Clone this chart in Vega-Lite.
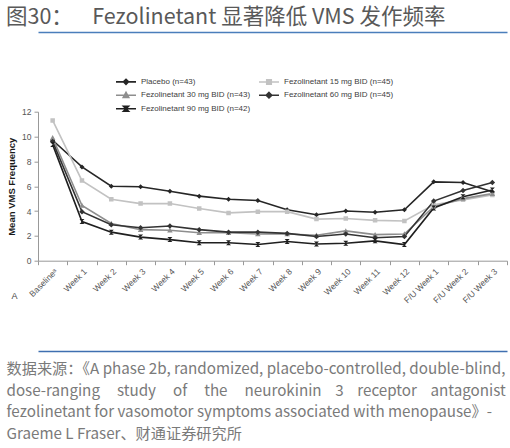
{
  "$schema": "https://vega.github.io/schema/vega-lite/v6.json",
  "autosize": "none",
  "width": 469,
  "height": 149,
  "padding": {"left": 38, "top": 111.7, "right": 3, "bottom": 187.3},
  "background": "white",
  "config": {"view": {"stroke": null}, "font": "Liberation Sans"},
  "title": {
    "text": "图30：\u00a0\u00a0\u00a0\u00a0Fezolinetant 显著降低 VMS 发作频率",
    "anchor": "start",
    "frame": "group",
    "dx": -32,
    "offset": -9.5,
    "font": "Noto Sans CJK SC",
    "fontSize": 21.5,
    "fontWeight": "normal",
    "color": "#595959"
  },
  "data": {
    "values": [
      {"week": "Baselineᵃ", "series": "Placebo (n=43)", "value": 9.7},
      {"week": "Week 1", "series": "Placebo (n=43)", "value": 7.55},
      {"week": "Week 2", "series": "Placebo (n=43)", "value": 6.0},
      {"week": "Week 3", "series": "Placebo (n=43)", "value": 5.95},
      {"week": "Week 4", "series": "Placebo (n=43)", "value": 5.6},
      {"week": "Week 5", "series": "Placebo (n=43)", "value": 5.2},
      {"week": "Week 6", "series": "Placebo (n=43)", "value": 4.95},
      {"week": "Week 7", "series": "Placebo (n=43)", "value": 4.85},
      {"week": "Week 8", "series": "Placebo (n=43)", "value": 4.1},
      {"week": "Week 9", "series": "Placebo (n=43)", "value": 3.7},
      {"week": "Week 10", "series": "Placebo (n=43)", "value": 4.0},
      {"week": "Week 11", "series": "Placebo (n=43)", "value": 3.9},
      {"week": "Week 12", "series": "Placebo (n=43)", "value": 4.1},
      {"week": "F/U Week 1", "series": "Placebo (n=43)", "value": 6.35},
      {"week": "F/U Week 2", "series": "Placebo (n=43)", "value": 6.3},
      {"week": "F/U Week 3", "series": "Placebo (n=43)", "value": 5.55},
      {"week": "Baselineᵃ", "series": "Fezolinetant 15 mg BID (n=45)", "value": 11.3},
      {"week": "Week 1", "series": "Fezolinetant 15 mg BID (n=45)", "value": 6.45},
      {"week": "Week 2", "series": "Fezolinetant 15 mg BID (n=45)", "value": 4.95},
      {"week": "Week 3", "series": "Fezolinetant 15 mg BID (n=45)", "value": 4.6},
      {"week": "Week 4", "series": "Fezolinetant 15 mg BID (n=45)", "value": 4.6},
      {"week": "Week 5", "series": "Fezolinetant 15 mg BID (n=45)", "value": 4.2},
      {"week": "Week 6", "series": "Fezolinetant 15 mg BID (n=45)", "value": 3.85},
      {"week": "Week 7", "series": "Fezolinetant 15 mg BID (n=45)", "value": 3.95},
      {"week": "Week 8", "series": "Fezolinetant 15 mg BID (n=45)", "value": 3.95},
      {"week": "Week 9", "series": "Fezolinetant 15 mg BID (n=45)", "value": 3.35},
      {"week": "Week 10", "series": "Fezolinetant 15 mg BID (n=45)", "value": 3.4},
      {"week": "Week 11", "series": "Fezolinetant 15 mg BID (n=45)", "value": 3.25},
      {"week": "Week 12", "series": "Fezolinetant 15 mg BID (n=45)", "value": 3.2},
      {"week": "F/U Week 1", "series": "Fezolinetant 15 mg BID (n=45)", "value": 4.5},
      {"week": "F/U Week 2", "series": "Fezolinetant 15 mg BID (n=45)", "value": 4.9},
      {"week": "F/U Week 3", "series": "Fezolinetant 15 mg BID (n=45)", "value": 5.3},
      {"week": "Baselineᵃ", "series": "Fezolinetant 30 mg BID (n=43)", "value": 9.9},
      {"week": "Week 1", "series": "Fezolinetant 30 mg BID (n=43)", "value": 4.45},
      {"week": "Week 2", "series": "Fezolinetant 30 mg BID (n=43)", "value": 3.0},
      {"week": "Week 3", "series": "Fezolinetant 30 mg BID (n=43)", "value": 2.5},
      {"week": "Week 4", "series": "Fezolinetant 30 mg BID (n=43)", "value": 2.45},
      {"week": "Week 5", "series": "Fezolinetant 30 mg BID (n=43)", "value": 2.25},
      {"week": "Week 6", "series": "Fezolinetant 30 mg BID (n=43)", "value": 2.25},
      {"week": "Week 7", "series": "Fezolinetant 30 mg BID (n=43)", "value": 2.15},
      {"week": "Week 8", "series": "Fezolinetant 30 mg BID (n=43)", "value": 2.15},
      {"week": "Week 9", "series": "Fezolinetant 30 mg BID (n=43)", "value": 2.05},
      {"week": "Week 10", "series": "Fezolinetant 30 mg BID (n=43)", "value": 2.4},
      {"week": "Week 11", "series": "Fezolinetant 30 mg BID (n=43)", "value": 2.1},
      {"week": "Week 12", "series": "Fezolinetant 30 mg BID (n=43)", "value": 2.15},
      {"week": "F/U Week 1", "series": "Fezolinetant 30 mg BID (n=43)", "value": 4.35},
      {"week": "F/U Week 2", "series": "Fezolinetant 30 mg BID (n=43)", "value": 5.0},
      {"week": "F/U Week 3", "series": "Fezolinetant 30 mg BID (n=43)", "value": 5.4},
      {"week": "Baselineᵃ", "series": "Fezolinetant 60 mg BID (n=45)", "value": 9.6},
      {"week": "Week 1", "series": "Fezolinetant 60 mg BID (n=45)", "value": 3.95},
      {"week": "Week 2", "series": "Fezolinetant 60 mg BID (n=45)", "value": 2.9},
      {"week": "Week 3", "series": "Fezolinetant 60 mg BID (n=45)", "value": 2.65},
      {"week": "Week 4", "series": "Fezolinetant 60 mg BID (n=45)", "value": 2.8},
      {"week": "Week 5", "series": "Fezolinetant 60 mg BID (n=45)", "value": 2.5},
      {"week": "Week 6", "series": "Fezolinetant 60 mg BID (n=45)", "value": 2.3},
      {"week": "Week 7", "series": "Fezolinetant 60 mg BID (n=45)", "value": 2.3},
      {"week": "Week 8", "series": "Fezolinetant 60 mg BID (n=45)", "value": 2.2},
      {"week": "Week 9", "series": "Fezolinetant 60 mg BID (n=45)", "value": 1.95},
      {"week": "Week 10", "series": "Fezolinetant 60 mg BID (n=45)", "value": 2.15},
      {"week": "Week 11", "series": "Fezolinetant 60 mg BID (n=45)", "value": 1.85},
      {"week": "Week 12", "series": "Fezolinetant 60 mg BID (n=45)", "value": 1.95},
      {"week": "F/U Week 1", "series": "Fezolinetant 60 mg BID (n=45)", "value": 4.8},
      {"week": "F/U Week 2", "series": "Fezolinetant 60 mg BID (n=45)", "value": 5.65},
      {"week": "F/U Week 3", "series": "Fezolinetant 60 mg BID (n=45)", "value": 6.3},
      {"week": "Baselineᵃ", "series": "Fezolinetant 90 mg BID (n=42)", "value": 9.35},
      {"week": "Week 1", "series": "Fezolinetant 90 mg BID (n=42)", "value": 3.15},
      {"week": "Week 2", "series": "Fezolinetant 90 mg BID (n=42)", "value": 2.3},
      {"week": "Week 3", "series": "Fezolinetant 90 mg BID (n=42)", "value": 1.9},
      {"week": "Week 4", "series": "Fezolinetant 90 mg BID (n=42)", "value": 1.7},
      {"week": "Week 5", "series": "Fezolinetant 90 mg BID (n=42)", "value": 1.45},
      {"week": "Week 6", "series": "Fezolinetant 90 mg BID (n=42)", "value": 1.45},
      {"week": "Week 7", "series": "Fezolinetant 90 mg BID (n=42)", "value": 1.3},
      {"week": "Week 8", "series": "Fezolinetant 90 mg BID (n=42)", "value": 1.55},
      {"week": "Week 9", "series": "Fezolinetant 90 mg BID (n=42)", "value": 1.35},
      {"week": "Week 10", "series": "Fezolinetant 90 mg BID (n=42)", "value": 1.4},
      {"week": "Week 11", "series": "Fezolinetant 90 mg BID (n=42)", "value": 1.6},
      {"week": "Week 12", "series": "Fezolinetant 90 mg BID (n=42)", "value": 1.3},
      {"week": "F/U Week 1", "series": "Fezolinetant 90 mg BID (n=42)", "value": 4.25},
      {"week": "F/U Week 2", "series": "Fezolinetant 90 mg BID (n=42)", "value": 5.15},
      {"week": "F/U Week 3", "series": "Fezolinetant 90 mg BID (n=42)", "value": 5.7}
    ]
  },
  "encoding": {
    "y": {
      "field": "value",
      "type": "quantitative",
      "scale": {"domain": [0, 12]},
      "axis": {
        "values": [0, 2, 4, 6, 8, 10, 12],
        "tickCount": 7,
        "labelOverlap": false,
        "grid": false,
        "title": "Mean VMS Frequency",
        "titleFontSize": 9.5,
        "titleFontWeight": "bold",
        "titleColor": "#1a1a1a",
        "titlePadding": 5,
        "labelFontSize": 8.5,
        "labelColor": "#555",
        "labelPadding": 3,
        "tickSize": 4,
        "tickColor": "#999",
        "domainColor": "#999"
      }
    }
  },
  "resolve": {"axis": {"x": "independent"}},
  "layer": [
    {
      "mark": {"type": "line", "strokeWidth": 1.6},
      "encoding": {
        "x": {
          "field": "week",
          "type": "nominal",
          "sort": ["Baselineᵃ", "Week 1", "Week 2", "Week 3", "Week 4", "Week 5", "Week 6", "Week 7", "Week 8", "Week 9", "Week 10", "Week 11", "Week 12", "F/U Week 1", "F/U Week 2", "F/U Week 3"],
          "scale": {"type": "band", "paddingInner": 0, "paddingOuter": 0},
          "axis": {
            "title": "A",
            "titleAlign": "left",
            "titleAnchor": "start",
            "titleX": -27,
            "titleY": 35,
            "titleBaseline": "middle",
            "titleFontWeight": "normal",
            "titleFontSize": 9,
            "titleColor": "#444",
            "labelAngle": -45,
            "labelFontSize": 8.5,
            "labelColor": "#555",
            "labelPadding": 2,
            "tickBand": "extent",
            "tickSize": 4,
            "tickColor": "#999",
            "domainColor": "#999"
          }
        },
        "color": {
          "field": "series",
          "type": "nominal",
          "scale": {
            "domain": ["Placebo (n=43)", "Fezolinetant 15 mg BID (n=45)", "Fezolinetant 30 mg BID (n=43)", "Fezolinetant 60 mg BID (n=45)", "Fezolinetant 90 mg BID (n=42)"],
            "range": ["#262626", "#c2c2c2", "#8e8e8e", "#333333", "#1f1f1f"]
          },
          "legend": {
            "orient": "none",
            "direction": "horizontal",
            "legendX": 82,
            "legendY": -36,
            "columns": 2,
            "title": null,
            "padding": 0,
            "symbolSize": 100,
            "symbolStrokeWidth": 1.6,
            "labelFont": "Liberation Sans",
            "labelFontSize": 8,
            "labelColor": "#404040",
            "labelOffset": 9,
            "labelLimit": 300,
            "columnPadding": 4,
            "rowPadding": 1.5
          }
        }
      }
    },
    {
      "mark": {"type": "point", "filled": true, "size": 100, "opacity": 1, "strokeWidth": 0},
      "encoding": {
        "x": {
          "field": "week",
          "type": "nominal",
          "sort": ["Baselineᵃ", "Week 1", "Week 2", "Week 3", "Week 4", "Week 5", "Week 6", "Week 7", "Week 8", "Week 9", "Week 10", "Week 11", "Week 12", "F/U Week 1", "F/U Week 2", "F/U Week 3"],
          "axis": {
            "orient": "top",
            "offset": 79.7,
            "title": "\u00a0",
            "titleFontSize": 2,
            "titlePadding": 0,
            "labels": true,
            "labelOpacity": 0,
            "labelFontSize": 2,
            "labelPadding": 0,
            "ticks": false,
            "domain": true,
            "domainColor": "#4a7ebb",
            "domainWidth": 1.5
          }
        },
        "fill": {
          "field": "series",
          "type": "nominal",
          "scale": {
            "domain": ["Placebo (n=43)", "Fezolinetant 15 mg BID (n=45)", "Fezolinetant 30 mg BID (n=43)", "Fezolinetant 60 mg BID (n=45)", "Fezolinetant 90 mg BID (n=42)"],
            "range": ["#262626", "#c2c2c2", "#8e8e8e", "#333333", "#1f1f1f"]
          },
          "legend": null
        },
        "shape": {
          "field": "series",
          "type": "nominal",
          "scale": {
            "domain": ["Placebo (n=43)", "Fezolinetant 15 mg BID (n=45)", "Fezolinetant 30 mg BID (n=43)", "Fezolinetant 60 mg BID (n=45)", "Fezolinetant 90 mg BID (n=42)"],
            "range": [
              "M-2,0H2M0,-0.5L0.5,0L0,0.5L-0.5,0Z",
              "M-2,0H2M-0.45,-0.45H0.45V0.45H-0.45Z",
              "M-2,0H2M0,-0.55L0.55,0.45H-0.55Z",
              "M-2,0H2M0,-0.55L0.55,0L0,0.55L-0.55,0Z",
              "M-2,0H2M-0.5,-0.5H0.5L-0.5,0.5H0.5Z"
            ]
          },
          "legend": {
            "orient": "none",
            "direction": "horizontal",
            "legendX": 82,
            "legendY": -36,
            "columns": 2,
            "title": null,
            "padding": 0,
            "symbolSize": 100,
            "symbolStrokeWidth": 1.6,
            "labelFont": "Liberation Sans",
            "labelFontSize": 8,
            "labelColor": "#404040",
            "labelOffset": 9,
            "labelLimit": 300,
            "columnPadding": 4,
            "rowPadding": 1.5
          }
        }
      }
    },
    {
      "mark": {"type": "point", "opacity": 0},
      "encoding": {
        "x": {
          "field": "week",
          "type": "nominal",
          "sort": ["Baselineᵃ", "Week 1", "Week 2", "Week 3", "Week 4", "Week 5", "Week 6", "Week 7", "Week 8", "Week 9", "Week 10", "Week 11", "Week 12", "F/U Week 1", "F/U Week 2", "F/U Week 3"],
          "axis": {
            "orient": "bottom",
            "offset": 90.3,
            "labels": false,
            "ticks": false,
            "domainColor": "#3f6fb0",
            "domainWidth": 1.3,
            "title": [
              "数据来源：《A phase 2b, randomized, placebo-controlled, double-blind,",
              "dose-ranging\u00a0\u00a0\u00a0\u00a0\u00a0study\u00a0\u00a0\u00a0\u00a0\u00a0of\u00a0\u00a0\u00a0\u00a0\u00a0the\u00a0\u00a0\u00a0\u00a0\u00a0neurokinin\u00a0\u00a0\u00a0\u00a03\u00a0\u00a0\u00a0\u00a0receptor\u00a0\u00a0\u00a0\u00a0antagonist",
              "fezolinetant for vasomotor symptoms associated with menopause》-",
              "Graeme L Fraser、财通证券研究所"
            ],
            "titleFont": "Noto Sans CJK SC",
            "titleFontSize": 15.2,
            "titleFontWeight": "normal",
            "titleColor": "#7a7a7a",
            "titleLineHeight": 21.7,
            "titleAlign": "left",
            "titleAnchor": "start",
            "titleBaseline": "top",
            "titleX": -32,
            "titleY": 10.5
          }
        }
      }
    }
  ]
}
